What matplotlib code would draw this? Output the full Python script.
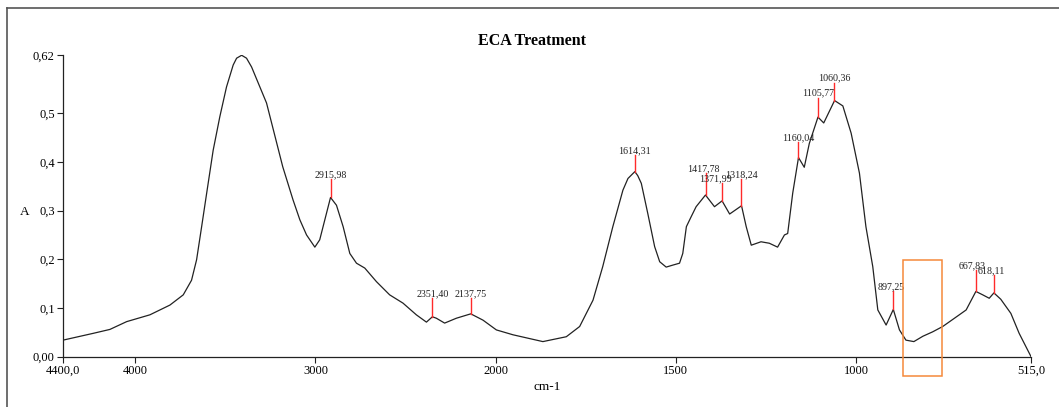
import numpy as np
import matplotlib
matplotlib.use('Agg')
import matplotlib.pyplot as plt
from matplotlib.patches import Rectangle
from matplotlib.lines import Line2D

plt.rcParams['font.family'] = ['Liberation Serif', 'DejaVu Serif']

# spectrum (wavenumber cm-1, absorbance)
wn = [4400, 4232, 4140, 4047, 3918, 3807, 3733, 3687, 3659, 3631, 3603, 3567, 3530, 3493,
      3456, 3437, 3409, 3382, 3354, 3308, 3271, 3181, 3124, 3086, 3049, 3003, 2976, 2916,
      2883, 2846, 2809, 2772, 2726, 2661, 2588, 2514, 2440, 2384, 2351, 2329, 2283, 2218,
      2138, 2070, 1998, 1952, 1869, 1804, 1767, 1730, 1703, 1675, 1647, 1633, 1614, 1606,
      1596, 1578, 1559, 1545, 1527, 1509, 1490, 1481, 1471, 1458, 1444, 1418, 1393, 1372,
      1351, 1318, 1305, 1291, 1264, 1241, 1218, 1199, 1190, 1176, 1160, 1144, 1130, 1106,
      1090, 1060, 1037, 1014, 991, 973, 954, 940, 917, 897, 880, 862, 840, 815, 788, 760,
      714, 695, 668, 649, 631, 618, 599, 571, 548, 515]
absorb = [0.034, 0.048, 0.056, 0.072, 0.086, 0.106, 0.127, 0.157, 0.199, 0.267, 0.336, 0.424,
          0.493, 0.554, 0.599, 0.613, 0.619, 0.613, 0.595, 0.554, 0.521, 0.390, 0.322, 0.281,
          0.250, 0.225, 0.240, 0.327, 0.311, 0.267, 0.212, 0.192, 0.182, 0.154, 0.127, 0.110,
          0.086, 0.071, 0.082, 0.079, 0.069, 0.079, 0.088, 0.075, 0.055, 0.045, 0.031, 0.041,
          0.062, 0.116, 0.185, 0.267, 0.342, 0.366, 0.380, 0.372, 0.356, 0.294, 0.226, 0.195,
          0.184, 0.188, 0.192, 0.212, 0.267, 0.287, 0.308, 0.332, 0.308, 0.320, 0.293, 0.310,
          0.267, 0.229, 0.236, 0.233, 0.225, 0.250, 0.253, 0.336, 0.409, 0.389, 0.438, 0.492,
          0.480, 0.526, 0.515, 0.459, 0.377, 0.267, 0.185, 0.096, 0.065, 0.097, 0.055, 0.034,
          0.031, 0.042, 0.051, 0.062, 0.086, 0.096, 0.134, 0.127, 0.120, 0.131, 0.118, 0.089,
          0.048, 0.0]

# picked peaks
peak_wn = [2915.98, 2351.40, 2137.75, 1614.31, 1417.78, 1371.99, 1318.24,
           1160.04, 1105.77, 1060.36, 897.25, 667.83, 618.11]
peak_lbl = ['2915,98', '2351,40', '2137,75', '1614,31', '1417,78', '1371,99', '1318,24',
            '1160,04', '1105,77', '1060,36', '897,25', '667,83', '618,11']
peak_base = [0.327, 0.082, 0.088, 0.380, 0.332, 0.320, 0.310, 0.409, 0.492, 0.526, 0.097, 0.134, 0.131]
peak_top = [0.364, 0.120, 0.120, 0.414, 0.377, 0.356, 0.364, 0.441, 0.532, 0.563, 0.134, 0.178, 0.168]

xticks = [4400, 4000, 3000, 2000, 1500, 1000, 515]
xtick_lbl = ['4400,0', '4000', '3000', '2000', '1500', '1000', '515,0']
yticks = [0, 0.1, 0.2, 0.3, 0.4, 0.5, 0.62]
ytick_lbl = ['0,00', '0,1', '0,2', '0,3', '0,4', '0,5', '0,62']

# highlighted region (cm-1, A)
box_x = (871, 763)
box_y = (-0.040, 0.199)

# small sideways nudges of crowded peak labels (points)
lbl_shift = {'1417,78': -1.5, '1371,99': -4.5, '897,25': -1.5, '667,83': -3, '618,11': -2}


# spectrometer style axis: scale doubles below 2000 cm-1
def fwd(x):
    x = np.asarray(x, dtype=float)
    return np.where(x >= 2000, x, 2 * x - 2000)


def inv(y):
    y = np.asarray(y, dtype=float)
    return np.where(y >= 2000, y, (y + 2000) / 2)


fig = plt.figure(figsize=(10.59, 4.07), dpi=100)
ax = fig.add_axes([0.0595, 0.1236, 0.9141, 0.7418])
ax.set_xscale('function', functions=(fwd, inv))
ax.set_xlim(4400, 515)
ax.set_ylim(0, 0.62)

ax.plot(wn, absorb, color='#222222', lw=0.9)

for w, b, t, s in zip(peak_wn, peak_base, peak_top, peak_lbl):
    ax.plot([w, w], [b, t], color='#ff2a2a', lw=1.0)
    ax.annotate(s, xy=(w, t), xytext=(lbl_shift.get(s, 0), 0), textcoords='offset points',
                ha='center', va='bottom', fontsize=7.2, color='#222222', annotation_clip=False)

x0, x1 = box_x
y0, y1 = box_y
ax.add_patch(Rectangle((x1, y0), x0 - x1, y1 - y0, fill=False, edgecolor='#f5893a',
                       lw=1.1, clip_on=False, zorder=5))

ax.set_xticks(xticks)
ax.set_xticklabels(xtick_lbl)
ax.set_yticks(yticks)
ax.set_yticklabels(ytick_lbl)
ax.minorticks_off()
ax.tick_params(direction='out', length=4, width=0.8, labelsize=9, pad=2, color='#222222')
for sp in ['top', 'right']:
    ax.spines[sp].set_visible(False)
for sp in ['left', 'bottom']:
    ax.spines[sp].set_color('#222222')
    ax.spines[sp].set_linewidth(0.9)

fig.text(0.502, 0.899, 'ECA Treatment', ha='center', va='center', fontsize=11.5, fontweight='bold')
fig.text(0.517, 0.049, 'cm-1', ha='center', va='center', fontsize=9.5)
fig.text(0.0236, 0.479, 'A', ha='center', va='center', fontsize=9.5)

# outer frame
fig.add_artist(Line2D([7 / 1059, 7 / 1059], [0, 1 - 8 / 407], color='#555555', lw=1.2))
fig.add_artist(Line2D([7 / 1059, 1], [1 - 8 / 407, 1 - 8 / 407], color='#555555', lw=1.2))

plt.savefig('out.png', dpi=100)
